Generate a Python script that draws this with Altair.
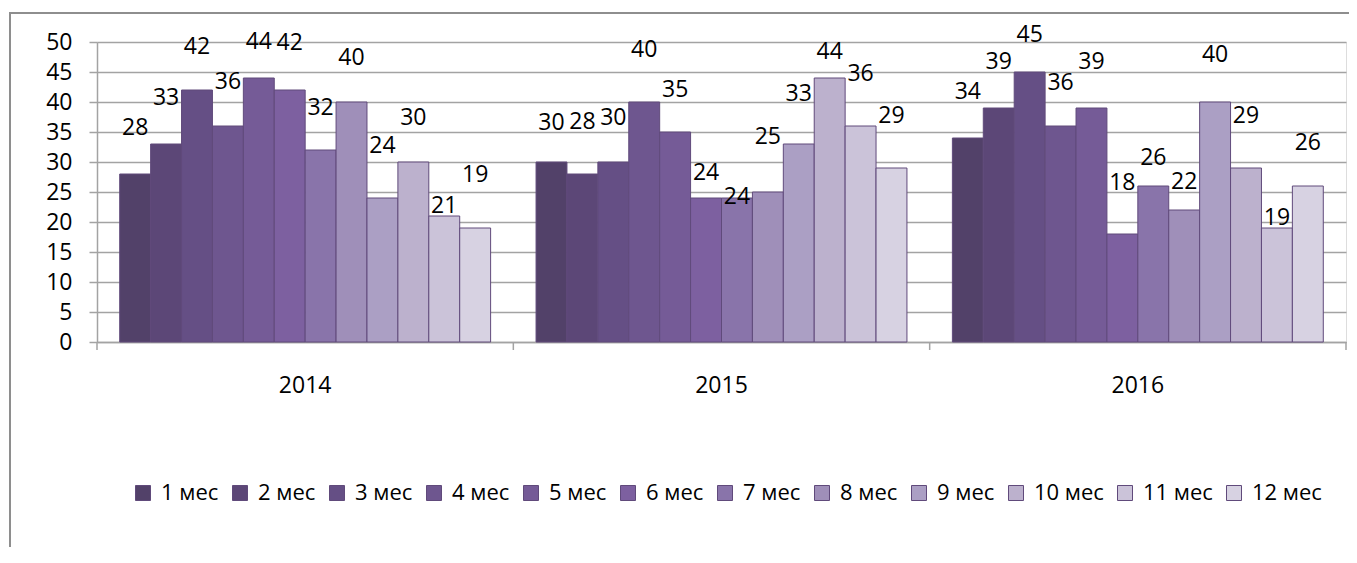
import altair as alt
import pandas as pd

years = ["2014", "2015", "2016"]
months = ["1 мес", "2 мес", "3 мес", "4 мес", "5 мес", "6 мес",
          "7 мес", "8 мес", "9 мес", "10 мес", "11 мес", "12 мес"]

v2014 = [28, 33, 42, 36, 44, 42, 32, 40, 24, 30, 21, 19]
v2015 = [30, 28, 30, 40, 35, 24, 24, 25, 33, 44, 36, 29]
v2016 = [34, 39, 45, 36, 39, 18, 26, 22, 40, 29, 19, 26]

# heights (in data units) at which the value labels sit in the original
lab2014 = [35.7, 40.6, 49.2, 43.4, 50.0, 49.9, 39.0, 47.4, 32.6, 37.3, 22.7, 27.8]
lab2015 = [36.5, 36.7, 37.3, 48.7, 42.0, 28.2, 24.2, 34.2, 41.3, 48.4, 44.7, 37.7]
lab2016 = [41.7, 46.7, 51.2, 43.1, 46.7, 26.5, 30.6, 26.6, 47.8, 37.6, 20.6, 33.2]

colors = ["#524169", "#5c4777", "#654f85", "#6e568f", "#755b97", "#7d60a0",
          "#8974aa", "#9f8fb9", "#ab9fc4", "#bcb1cd", "#cbc3d9", "#d7d2e2"]

rows = []
for yr, vals, labs in zip(years, [v2014, v2015, v2016], [lab2014, lab2015, lab2016]):
    for m, v, l in zip(months, vals, labs):
        rows.append({"year": yr, "month": m, "value": v, "label_y": l})
df = pd.DataFrame(rows)
df_years = pd.DataFrame({"year": years})
df_one = pd.DataFrame({"a": [0]})

FONT = "Open Sans"
FS = 23
GRID = "#a3a3a3"

W, H = 1249, 300

frame = alt.Chart(df_one).mark_rect(fill=None, stroke="#8e8e8e", strokeWidth=2).encode(
    x=alt.value(-87), x2=alt.value(W + 60), y=alt.value(-29), y2=alt.value(H + 300)
)

x_axis = alt.Axis(title=None, labelAngle=0, ticks=False, labelPadding=32,
                  domainColor=GRID, domainWidth=1.5, labelFontSize=FS,
                  labelColor="black", labelFont=FONT, grid=False)
x_scale = alt.Scale(domain=years, paddingInner=0, paddingOuter=0)
y_axis = alt.Axis(title=None, values=[0, 5, 10, 15, 20, 25, 30, 35, 40, 45, 50],
                  grid=True, labelOverlap=False,
                  gridColor=GRID, gridWidth=1.5, tickColor=GRID, tickWidth=1.5,
                  tickSize=8, domainColor=GRID, domainWidth=1.5,
                  labelPadding=17, labelFontSize=FS, labelColor="black",
                  labelFont=FONT)
y_scale = alt.Scale(domain=[0, 50], nice=False)
xo_scale = alt.Scale(domain=months, paddingInner=0, paddingOuter=0.735)

bars = alt.Chart(df).mark_bar(stroke="#604a7b", strokeWidth=1).encode(
    x=alt.X("year:N", sort=years, scale=x_scale, axis=x_axis),
    xOffset=alt.XOffset("month:N", sort=months, scale=xo_scale),
    y=alt.Y("value:Q", scale=y_scale, axis=y_axis),
    color=alt.Color("month:N", sort=months,
                    scale=alt.Scale(domain=months, range=colors),
                    legend=alt.Legend(title=None, orient="none", legendX=35, legendY=440,
                                      direction="horizontal", columns=12,
                                      symbolType="square", symbolSize=225,
                                      symbolStrokeColor="#604a7b", symbolStrokeWidth=1,
                                      labelFontSize=22, labelFont=FONT, labelColor="black",
                                      labelOffset=7, columnPadding=10)),
)

ticks = alt.Chart(df_years).mark_rule(color=GRID, strokeWidth=1.5).encode(
    x=alt.X("year:N", sort=years, bandPosition=0, scale=x_scale, axis=x_axis),
    y=alt.value(H), y2=alt.value(H + 8),
)
tick_end = alt.Chart(df_one).mark_rule(color=GRID, strokeWidth=1.5).encode(
    x=alt.value(W), y=alt.value(H), y2=alt.value(H + 8),
)

labels = alt.Chart(df).mark_text(fontSize=FS, font=FONT, color="black",
                                 baseline="middle", align="center").encode(
    x=alt.X("year:N", sort=years, scale=x_scale, axis=x_axis),
    xOffset=alt.XOffset("month:N", sort=months, scale=xo_scale),
    y=alt.Y("label_y:Q", scale=y_scale, axis=y_axis),
    text=alt.Text("value:Q"),
)

chart = alt.layer(frame, bars, ticks, tick_end, labels).properties(
    width=W, height=H,
    padding={"left": 89, "top": 34, "right": 3, "bottom": 205},
    autosize=alt.AutoSizeParams(type="none"),
).configure_view(fill="#eeecf1", stroke=None).configure(background="white")

chart.save("out.html", embed_options={"renderer": "svg", "actions": False})
